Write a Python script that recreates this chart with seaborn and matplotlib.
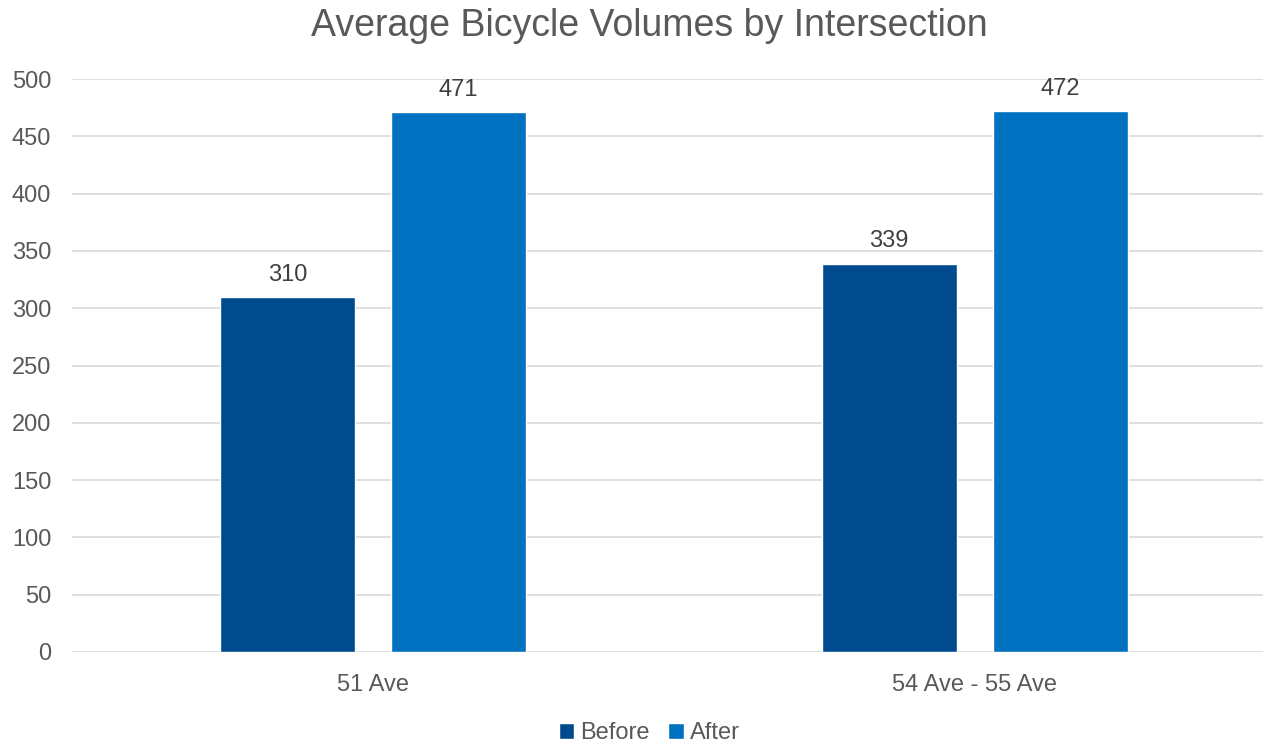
import matplotlib
matplotlib.use("Agg")
import matplotlib.pyplot as plt
import pandas as pd
import seaborn as sns

categories = ["51 Ave", "54 Ave - 55 Ave"]
before = [310, 339]
after = [471, 472]
series = ["Before", "After"]
colors = {"Before": "#004B8D", "After": "#0070C0"}

df = pd.DataFrame({
    "Intersection": categories * 2,
    "Period": ["Before"] * len(before) + ["After"] * len(after),
    "Volume": before + after,
})

sns.set_style("white")
plt.rcParams["font.family"] = ["Liberation Sans", "DejaVu Sans"]

fig = plt.figure(figsize=(12.63, 7.42), dpi=100)
ax = fig.add_axes([0.057, 0.1213, 0.953, 0.7722])

sns.barplot(data=df, x="Intersection", y="Volume", hue="Period",
            hue_order=series, palette=colors, saturation=1,
            width=0.568, gap=0.21, ax=ax, legend=True, zorder=3)

for cont in ax.containers:
    ax.bar_label(cont, fmt="%d", padding=8, fontsize=17, color="#404040")

ax.set_ylim(0, 500)
ax.set_yticks(range(0, 501, 50))
ax.grid(axis="y", color="#D9D9D9", lw=1.2, zorder=0)
ax.set_axisbelow(True)
for s in ax.spines.values():
    s.set_visible(False)
ax.tick_params(axis="both", length=0, labelsize=17, colors="#595959")
ax.tick_params(axis="x", pad=16)
ax.tick_params(axis="y", pad=15)
ax.set_xlabel("")
ax.set_ylabel("")

fig.text(0.514, 0.965, "Average Bicycle Volumes by Intersection",
         ha="center", va="center", fontsize=27, color="#595959")

ax.get_legend().remove()
fig.legend(*ax.get_legend_handles_labels(), loc="center",
           bbox_to_anchor=(0.514, 0.012), ncol=2, frameon=False, fontsize=17,
           handlelength=0.65, handleheight=0.65, handletextpad=0.25,
           columnspacing=0.8, labelcolor="#595959", borderaxespad=0)

fig.savefig("out.png", dpi=100)
